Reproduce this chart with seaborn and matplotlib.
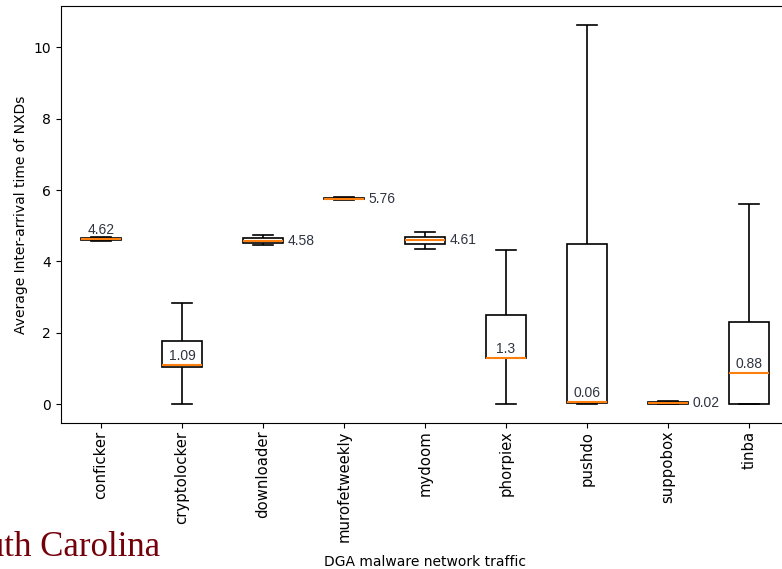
import matplotlib
matplotlib.use('Agg')
import matplotlib.pyplot as plt
import seaborn as sns
import pandas as pd

FAMILIES = ['conficker', 'cryptolocker', 'downloader', 'murofetweekly', 'mydoom',
            'phorpiex', 'pushdo', 'suppobox', 'tinba']
# five-number summaries: low whisker, q1, median, q3, high whisker
LOW = [4.57, 0.00, 4.45, 5.72, 4.34, 0.00, 0.00, 0.00, 0.00]
Q1 = [4.59, 1.05, 4.52, 5.74, 4.48, 1.30, 0.02, 0.00, 0.01]
MED = [4.62, 1.09, 4.58, 5.76, 4.61, 1.30, 0.06, 0.02, 0.88]
Q3 = [4.65, 1.78, 4.65, 5.79, 4.68, 2.50, 4.49, 0.05, 2.31]
HIGH = [4.67, 2.83, 4.75, 5.80, 4.82, 4.33, 10.64, 0.10, 5.61]
# where the median label sits: above the median line or right of the box
LABEL_SIDE = ['top', 'top', 'right', 'right', 'right', 'top', 'top', 'right', 'top']

rows = []
for i, fam in enumerate(FAMILIES):
    for v in (LOW[i], Q1[i], MED[i], Q3[i], HIGH[i]):
        rows.append({'family': fam, 'value': v})
df = pd.DataFrame(rows)

fig = plt.figure(figsize=(7.82, 5.69), dpi=100)
# the plot runs slightly past the right edge of the picture, as in the reference
ax = fig.add_axes([0.0774, 0.2566, 0.932, 0.7329])

sns.boxplot(data=df, x='family', y='value', order=FAMILIES, ax=ax,
            width=0.5, whis=(0, 100), showfliers=False, linewidth=1.2,
            boxprops={'facecolor': 'white', 'edgecolor': 'black'},
            medianprops={'color': '#ff7f0e', 'linewidth': 1.5},
            whiskerprops={'color': 'black'},
            capprops={'color': 'black'})

ax.set_xlim(-0.5, len(FAMILIES) - 0.5)
ax.set_ylim(-0.53, 11.16)
ax.spines['right'].set_visible(False)
ax.set_xlabel('DGA malware network traffic', fontsize=10, labelpad=9)
ax.set_ylabel('Average Inter-arrival time of NXDs', fontsize=10)
ax.tick_params(axis='x', labelrotation=90, labelsize=10.7, pad=2)

for i, m in enumerate(MED):
    label = str(round(m, 2))
    if LABEL_SIDE[i] == 'top':
        ax.annotate(label, (i, m), xytext=(0, 1.5), textcoords='offset points',
                    ha='center', va='bottom', fontsize=10, color='#2e3440',
                    family='Liberation Sans')
    else:
        ax.annotate(label, (i + 0.25, m), xytext=(3, 0), textcoords='offset points',
                    ha='left', va='center', fontsize=10, color='#2e3440',
                    family='Liberation Sans')

# cropped logo text at the lower left, as in the reference
fig.text(160 / 782, 1 - 547 / 569, 'South Carolina', ha='right', va='center',
         fontsize=25, color='#73000a', family='Liberation Serif')

fig.savefig('out.png', dpi=100)
